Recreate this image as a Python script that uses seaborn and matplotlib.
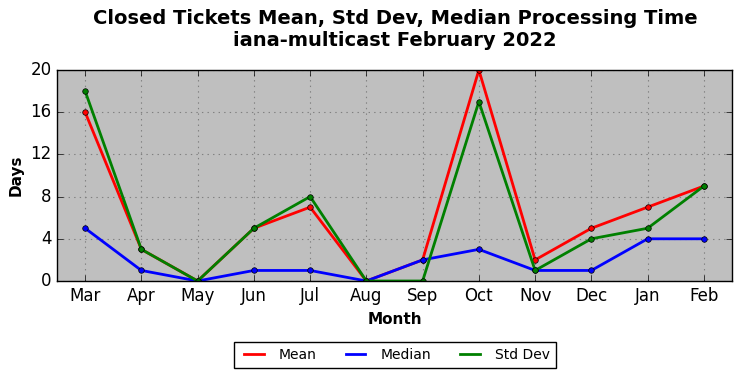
import numpy as np
import pandas as pd
import seaborn as sns
from matplotlib import pyplot as plt

months = ['Mar', 'Apr', 'May', 'Jun', 'Jul', 'Aug', 'Sep', 'Oct', 'Nov', 'Dec', 'Jan', 'Feb']
mean_days = [16, 3, 0, 5, 7, 0, 2, 20, 2, 5, 7, 9]
median_days = [5, 1, 0, 1, 1, 0, 2, 3, 1, 1, 4, 4]
std_days = [18, 3, 0, 5, 8, 0, 0, 17, 1, 4, 5, 9]

series = {'Mean': mean_days, 'Median': median_days, 'Std Dev': std_days}
colors = {'Mean': 'red', 'Median': 'blue', 'Std Dev': 'green'}

rows = []
for name, vals in series.items():
    for i, v in enumerate(vals):
        rows.append({'idx': i, 'Month': months[i], 'Days': v, 'series': name})
df = pd.DataFrame(rows)

plt.style.use('classic')
fig = plt.figure(figsize=(7.42, 3.78), dpi=100)
ax = fig.add_axes([57 / 742, 1 - 281 / 378, (732 - 57) / 742, (281 - 70) / 378])
ax.set_facecolor('#bfbfbf')

sns.lineplot(data=df, x='idx', y='Days', hue='series', palette=colors,
             marker='o', markersize=4, markeredgecolor='black', markeredgewidth=0.5,
             linewidth=2, ax=ax, legend=False)

ax.set_xlim(-0.5, 11.5)
ax.set_ylim(0, 20)
ax.set_xticks(np.arange(len(months)))
ax.set_xticklabels(months)
ax.set_yticks([0, 4, 8, 12, 16, 20])
ax.tick_params(labelsize=12)
ax.grid(True, color='gray', linestyle=':', linewidth=0.8)
ax.set_axisbelow(True)
ax.set_xlabel('Month', fontsize=11, fontweight='bold')
ax.set_ylabel('Days', fontsize=11, fontweight='bold')

fig.suptitle('Closed Tickets Mean, Std Dev, Median Processing Time\niana-multicast February 2022',
             fontsize=14, fontweight='bold', x=395 / 742, y=0.975)

handles = [plt.Line2D([], [], color=colors[n], linewidth=2) for n in series]
leg = fig.legend(handles, list(series.keys()), loc='center', bbox_to_anchor=(395 / 742, 1 - 355 / 378),
                 ncol=3, fontsize=10, frameon=True, fancybox=False, columnspacing=1.8,
                 handlelength=2, borderpad=0.4)
leg.get_frame().set_edgecolor('black')

fig.savefig('out.png', dpi=100, facecolor='white')
